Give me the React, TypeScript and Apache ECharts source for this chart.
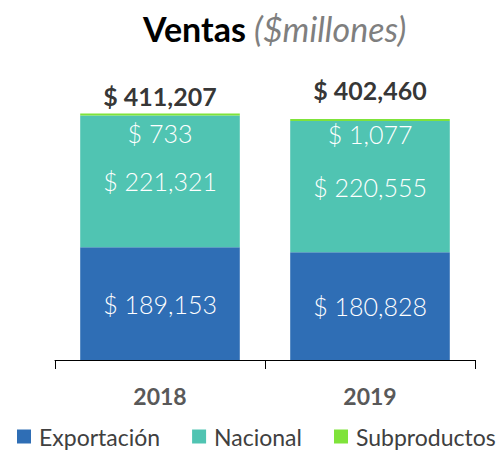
import React, { useEffect, useRef } from "react";
import * as echarts from "echarts";

const categories = ["2018", "2019"];
const exportacion = [189153, 180828];
const nacional = [221321, 220555];
const subproductos = [733, 1077];
const totals = [411207, 402460];
const totalLabelDistances = [7, 18];
const subLabelDistances = [5, 1];

const fmt = (v: number) => "$ " + v.toLocaleString("en-US");
const FONT = "Lato, 'Open Sans', sans-serif";

export default function App() {
  const ref = useRef<HTMLDivElement>(null);
  useEffect(() => {
    if (!ref.current) return;
    const chart = echarts.init(ref.current, null, { renderer: "svg" });
    const inside = {
      show: true,
      position: "inside" as const,
      color: "#ffffff",
      fontFamily: FONT,
      fontSize: 25,
      fontWeight: 300,
      formatter: (p: any) => fmt(p.value),
    };
    chart.setOption({
      animation: false,
      textStyle: { fontFamily: FONT },
      title: {
        left: 138,
        top: 6,
        text: "{b|Ventas }{i|($millones)}",
        textStyle: {
          rich: {
            b: { fontSize: 34, fontWeight: "bold", color: "#000000", fontFamily: FONT },
            i: { fontSize: 34, fontWeight: "normal", fontStyle: "italic", color: "#7f7f7f", fontFamily: FONT },
          },
        },
      },
      legend: {
        top: 425,
        left: 17,
        padding: 0,
        itemWidth: 14,
        itemHeight: 14,
        itemGap: 32,
        icon: "rect",
        data: ["Exportación", "Nacional", "Subproductos"],
        textStyle: { fontSize: 23, color: "#404040", fontFamily: FONT, padding: [0, 0, 0, 3] },
      },
      grid: { left: 55, right: 27, top: 92, bottom: 90 },
      xAxis: {
        type: "category",
        data: categories,
        axisLine: { lineStyle: { color: "#000000", width: 1 } },
        axisTick: { show: true, length: 9, lineStyle: { color: "#000000" } },
        axisLabel: {
          fontSize: 23,
          fontWeight: "bold",
          color: "#595959",
          margin: 24,
          fontFamily: FONT,
        },
      },
      yAxis: { type: "value", min: 0, max: 450000, show: false, splitLine: { show: false } },
      series: [
        {
          name: "Exportación",
          type: "bar",
          stack: "v",
          barWidth: "76%",
          data: exportacion,
          itemStyle: { color: "#2F6EB5" },
          label: inside,
        },
        {
          name: "Nacional",
          type: "bar",
          stack: "v",
          data: nacional,
          itemStyle: { color: "#50C4B2" },
          label: inside,
        },
        {
          name: "Subproductos",
          type: "bar",
          stack: "v",
          barMinHeight: 2,
          data: subproductos.map((v, i) => ({
            value: v,
            label: { distance: subLabelDistances[i] },
          })),
          itemStyle: { color: "#7FE33A" },
          label: { ...inside, position: "bottom" },
        },
        {
          name: "Total",
          type: "scatter",
          symbolSize: 0,
          silent: true,
          data: totals.map((v, i) => ({
            value: v,
            label: { distance: totalLabelDistances[i] },
          })),
          label: {
            show: true,
            position: "top",
            color: "#000000",
            fontWeight: "bold",
            fontSize: 25,
            fontFamily: FONT,
            formatter: (p: any) => fmt(p.value),
          },
        },
      ],
    });
    return () => chart.dispose();
  }, []);
  return (
    <div
      ref={ref}
      style={{ position: "absolute", left: 0, top: 0, width: 502, height: 450 }}
    />
  );
}
